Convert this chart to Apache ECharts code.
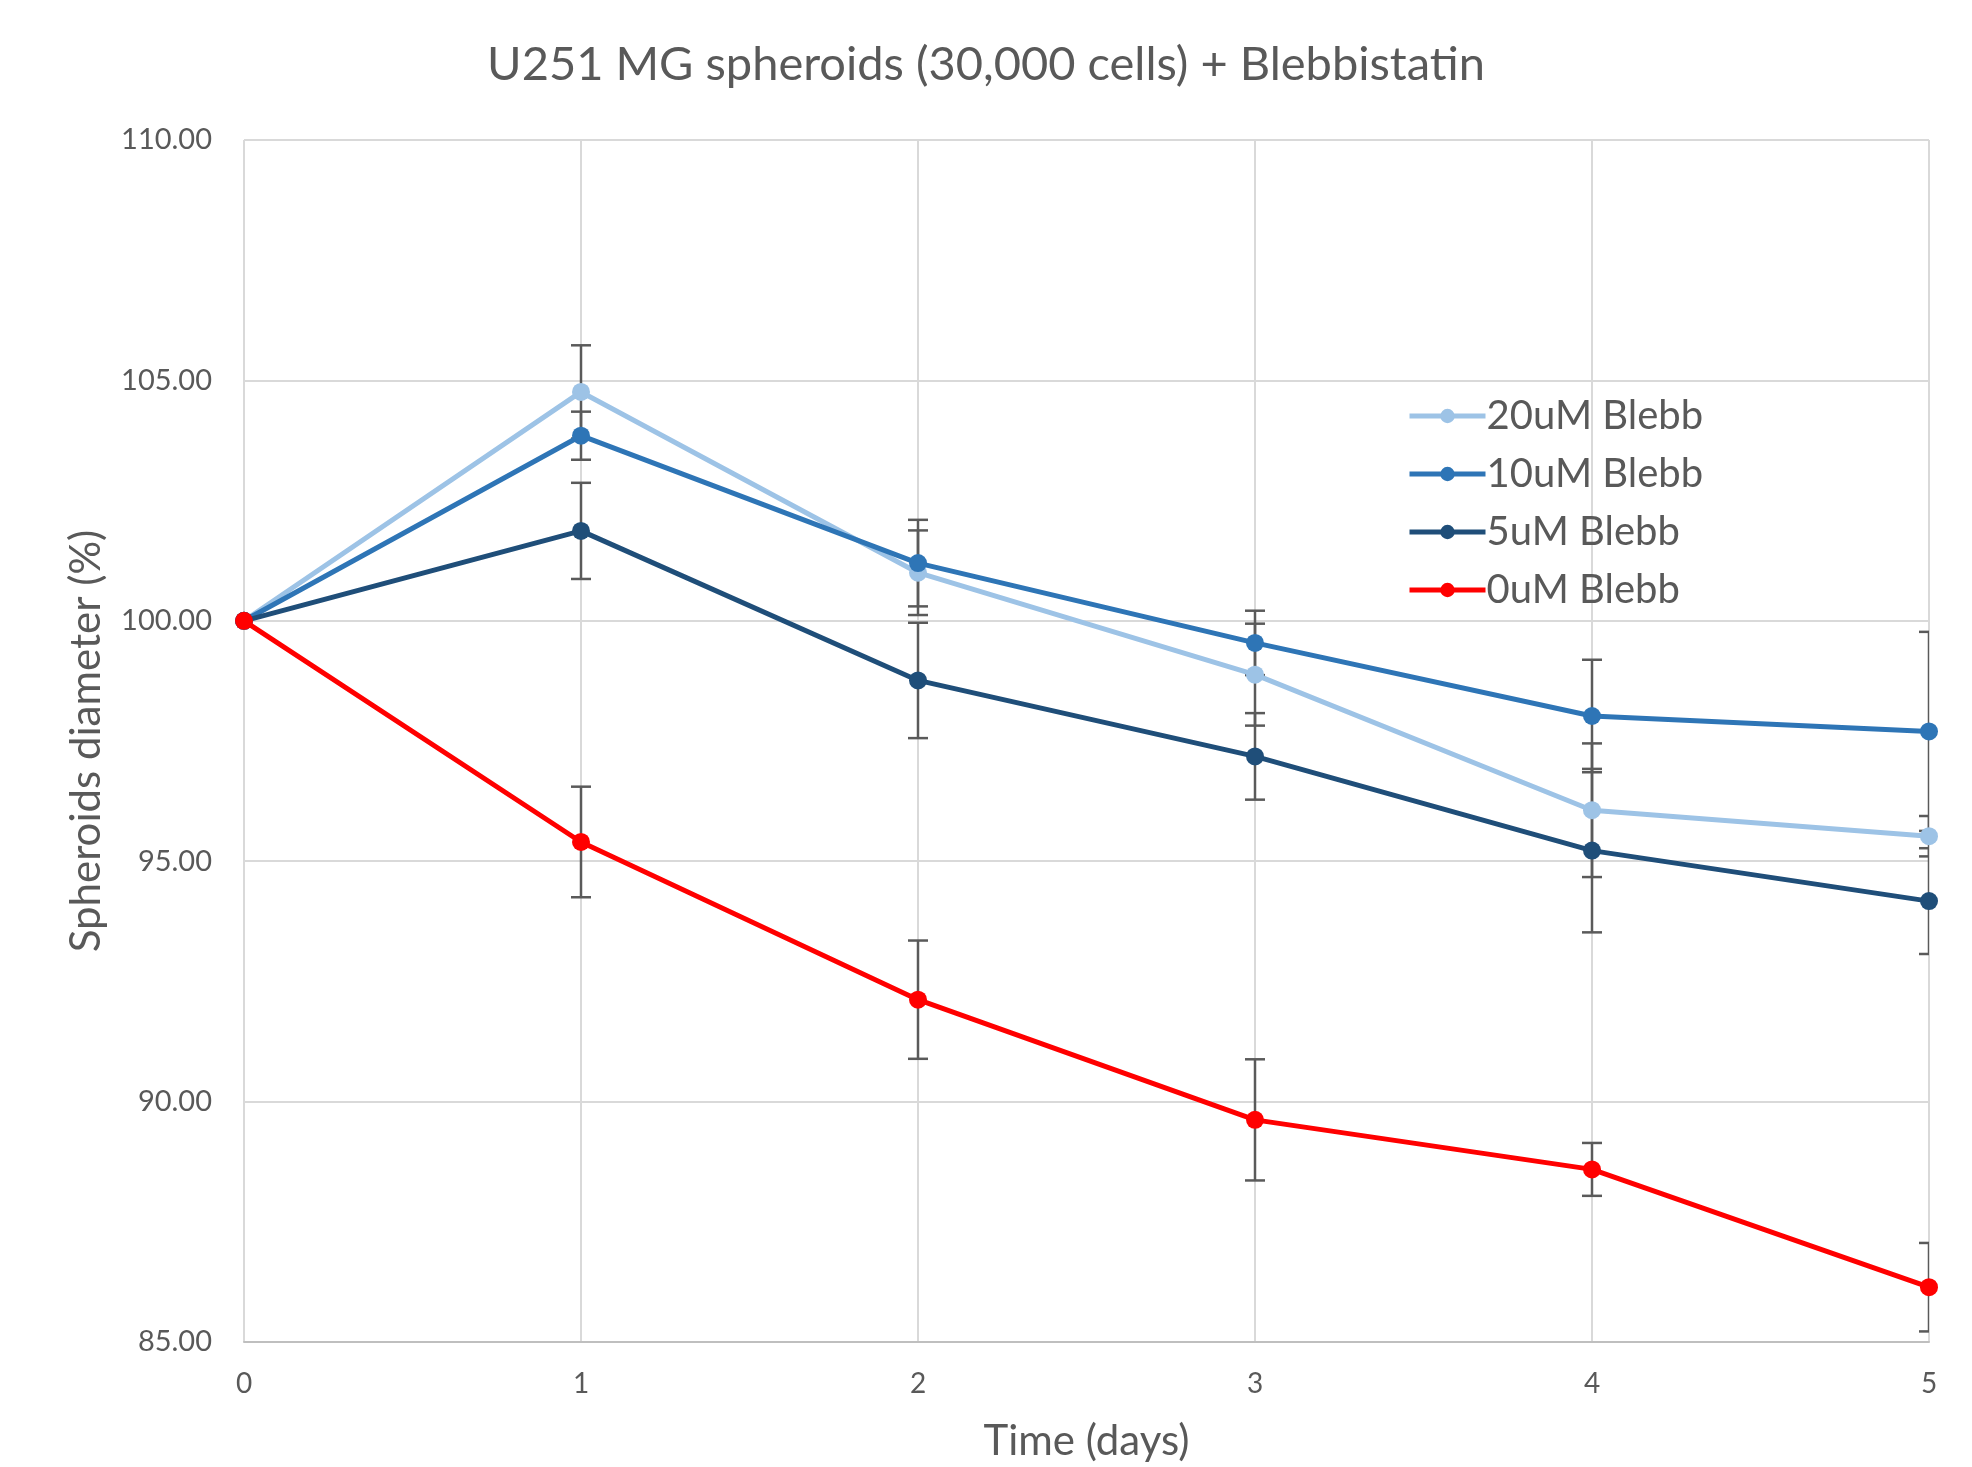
<!DOCTYPE html>
<html>
<head>
<meta charset="utf-8">
<script src="https://cdn.jsdelivr.net/npm/echarts@6/dist/echarts.min.js"></script>
<style>
  html, body { margin: 0; padding: 0; background: #fff; overflow: hidden; }
  #chart { width: 1972px; height: 1467px; }
</style>
</head>
<body>
<div id="chart"></div>
<script>
// time points (days)
const days = [0, 1, 2, 3, 4, 5];

// mean spheroid diameter (%) per treatment
const blebb20 = [100, 104.76, 101.0, 98.88, 96.06, 95.52];
const blebb10 = [100, 103.85, 101.2, 99.54, 98.02, 97.70];
const blebb5 = [100, 101.87, 98.76, 97.18, 95.22, 94.17];
const blebb0 = [100, 95.40, 92.12, 89.62, 88.59, 86.14];

// error bar half-lengths
const err20 = [0, 0.97, 0.88, 1.06, 1.39, 0.42];
const err10 = [0, 0.50, 0.90, 0.67, 1.17, 2.07];
const err5 = [0, 1.00, 1.20, 0.90, 1.70, 1.10];
const err0 = [0, 1.15, 1.23, 1.26, 0.55, 0.92];

const names = ['20uM Blebb', '10uM Blebb', '5uM Blebb', '0uM Blebb'];
const colors = ['#9DC3E6', '#2E75B6', '#1F4E79', '#FF0000'];
const means = [blebb20, blebb10, blebb5, blebb0];
const errs = [err20, err10, err5, err0];

const font = 'Lato, "Noto Sans", sans-serif';
const textColor = '#595959';

function errorSeries(vals, err) {
  const data = days.map((d, i) => [d, vals[i] - err[i], vals[i] + err[i]]);
  return {
    type: 'custom',
    silent: true,
    clip: true,
    z: 1,
    data: data,
    renderItem: function (params, api) {
      const lo = api.value(1), hi = api.value(2);
      if (hi - lo <= 0) return null;
      const x = api.value(0);
      const p1 = api.coord([x, hi]);
      const p2 = api.coord([x, lo]);
      const cap = 10;
      const st = { stroke: '#5a5a5a', lineWidth: 2.5 };
      return {
        type: 'group',
        children: [
          { type: 'line', shape: { x1: p1[0], y1: p1[1], x2: p2[0], y2: p2[1] }, style: st },
          { type: 'line', shape: { x1: p1[0] - cap, y1: p1[1], x2: p1[0] + cap, y2: p1[1] }, style: st },
          { type: 'line', shape: { x1: p2[0] - cap, y1: p2[1], x2: p2[0] + cap, y2: p2[1] }, style: st }
        ]
      };
    }
  };
}

const series = [];
means.forEach((vals, k) => {
  series.push(errorSeries(vals, errs[k]));
});
means.forEach((vals, k) => {
  series.push({
    name: names[k],
    type: 'line',
    z: 2 + k,
    data: days.map((d, i) => [d, vals[i]]),
    symbol: 'circle',
    symbolSize: 18,
    lineStyle: { color: colors[k], width: 5 },
    itemStyle: { color: colors[k] },
    emphasis: { disabled: true }
  });
});

const chart = echarts.init(document.getElementById('chart'));
chart.setOption({
  animation: false,
  backgroundColor: '#fff',
  title: {
    text: 'U251 MG spheroids (30,000 cells) + Blebbistatin',
    left: 'center',
    top: 36,
    textStyle: { fontFamily: font, fontSize: 47, fontWeight: 'normal', color: textColor }
  },
  legend: {
    orient: 'vertical',
    left: 1402,
    top: 391,
    itemWidth: 76,
    itemHeight: 18,
    itemGap: 18,
    data: names,
    lineStyle: { width: 5 },
    textStyle: { fontFamily: font, fontSize: 40, color: textColor, padding: [0, 0, 0, -4] }
  },
  grid: { left: 244, top: 140, width: 1685, height: 1202, containLabel: false },
  xAxis: {
    type: 'value',
    min: 0,
    max: 5,
    interval: 1,
    name: 'Time (days)',
    nameLocation: 'middle',
    nameGap: 78,
    nameTextStyle: { fontFamily: font, fontSize: 42, color: textColor },
    axisLine: { show: true, lineStyle: { color: '#BFBFBF', width: 2 } },
    axisTick: { show: false },
    axisLabel: { fontFamily: font, fontSize: 28, color: textColor, margin: 28 },
    splitLine: { show: true, lineStyle: { color: '#D9D9D9', width: 2 } }
  },
  yAxis: {
    type: 'value',
    min: 85,
    max: 110,
    interval: 5,
    name: 'Spheroids diameter (%)',
    nameLocation: 'middle',
    nameGap: 137,
    nameTextStyle: { fontFamily: font, fontSize: 42, color: textColor },
    axisLine: { show: false },
    axisTick: { show: false },
    axisLabel: {
      fontFamily: font, fontSize: 29, color: textColor, margin: 32,
      formatter: v => v.toFixed(2)
    },
    splitLine: { show: true, lineStyle: { color: '#D9D9D9', width: 2 } }
  },
  series: series
});
</script>
</body>
</html>
